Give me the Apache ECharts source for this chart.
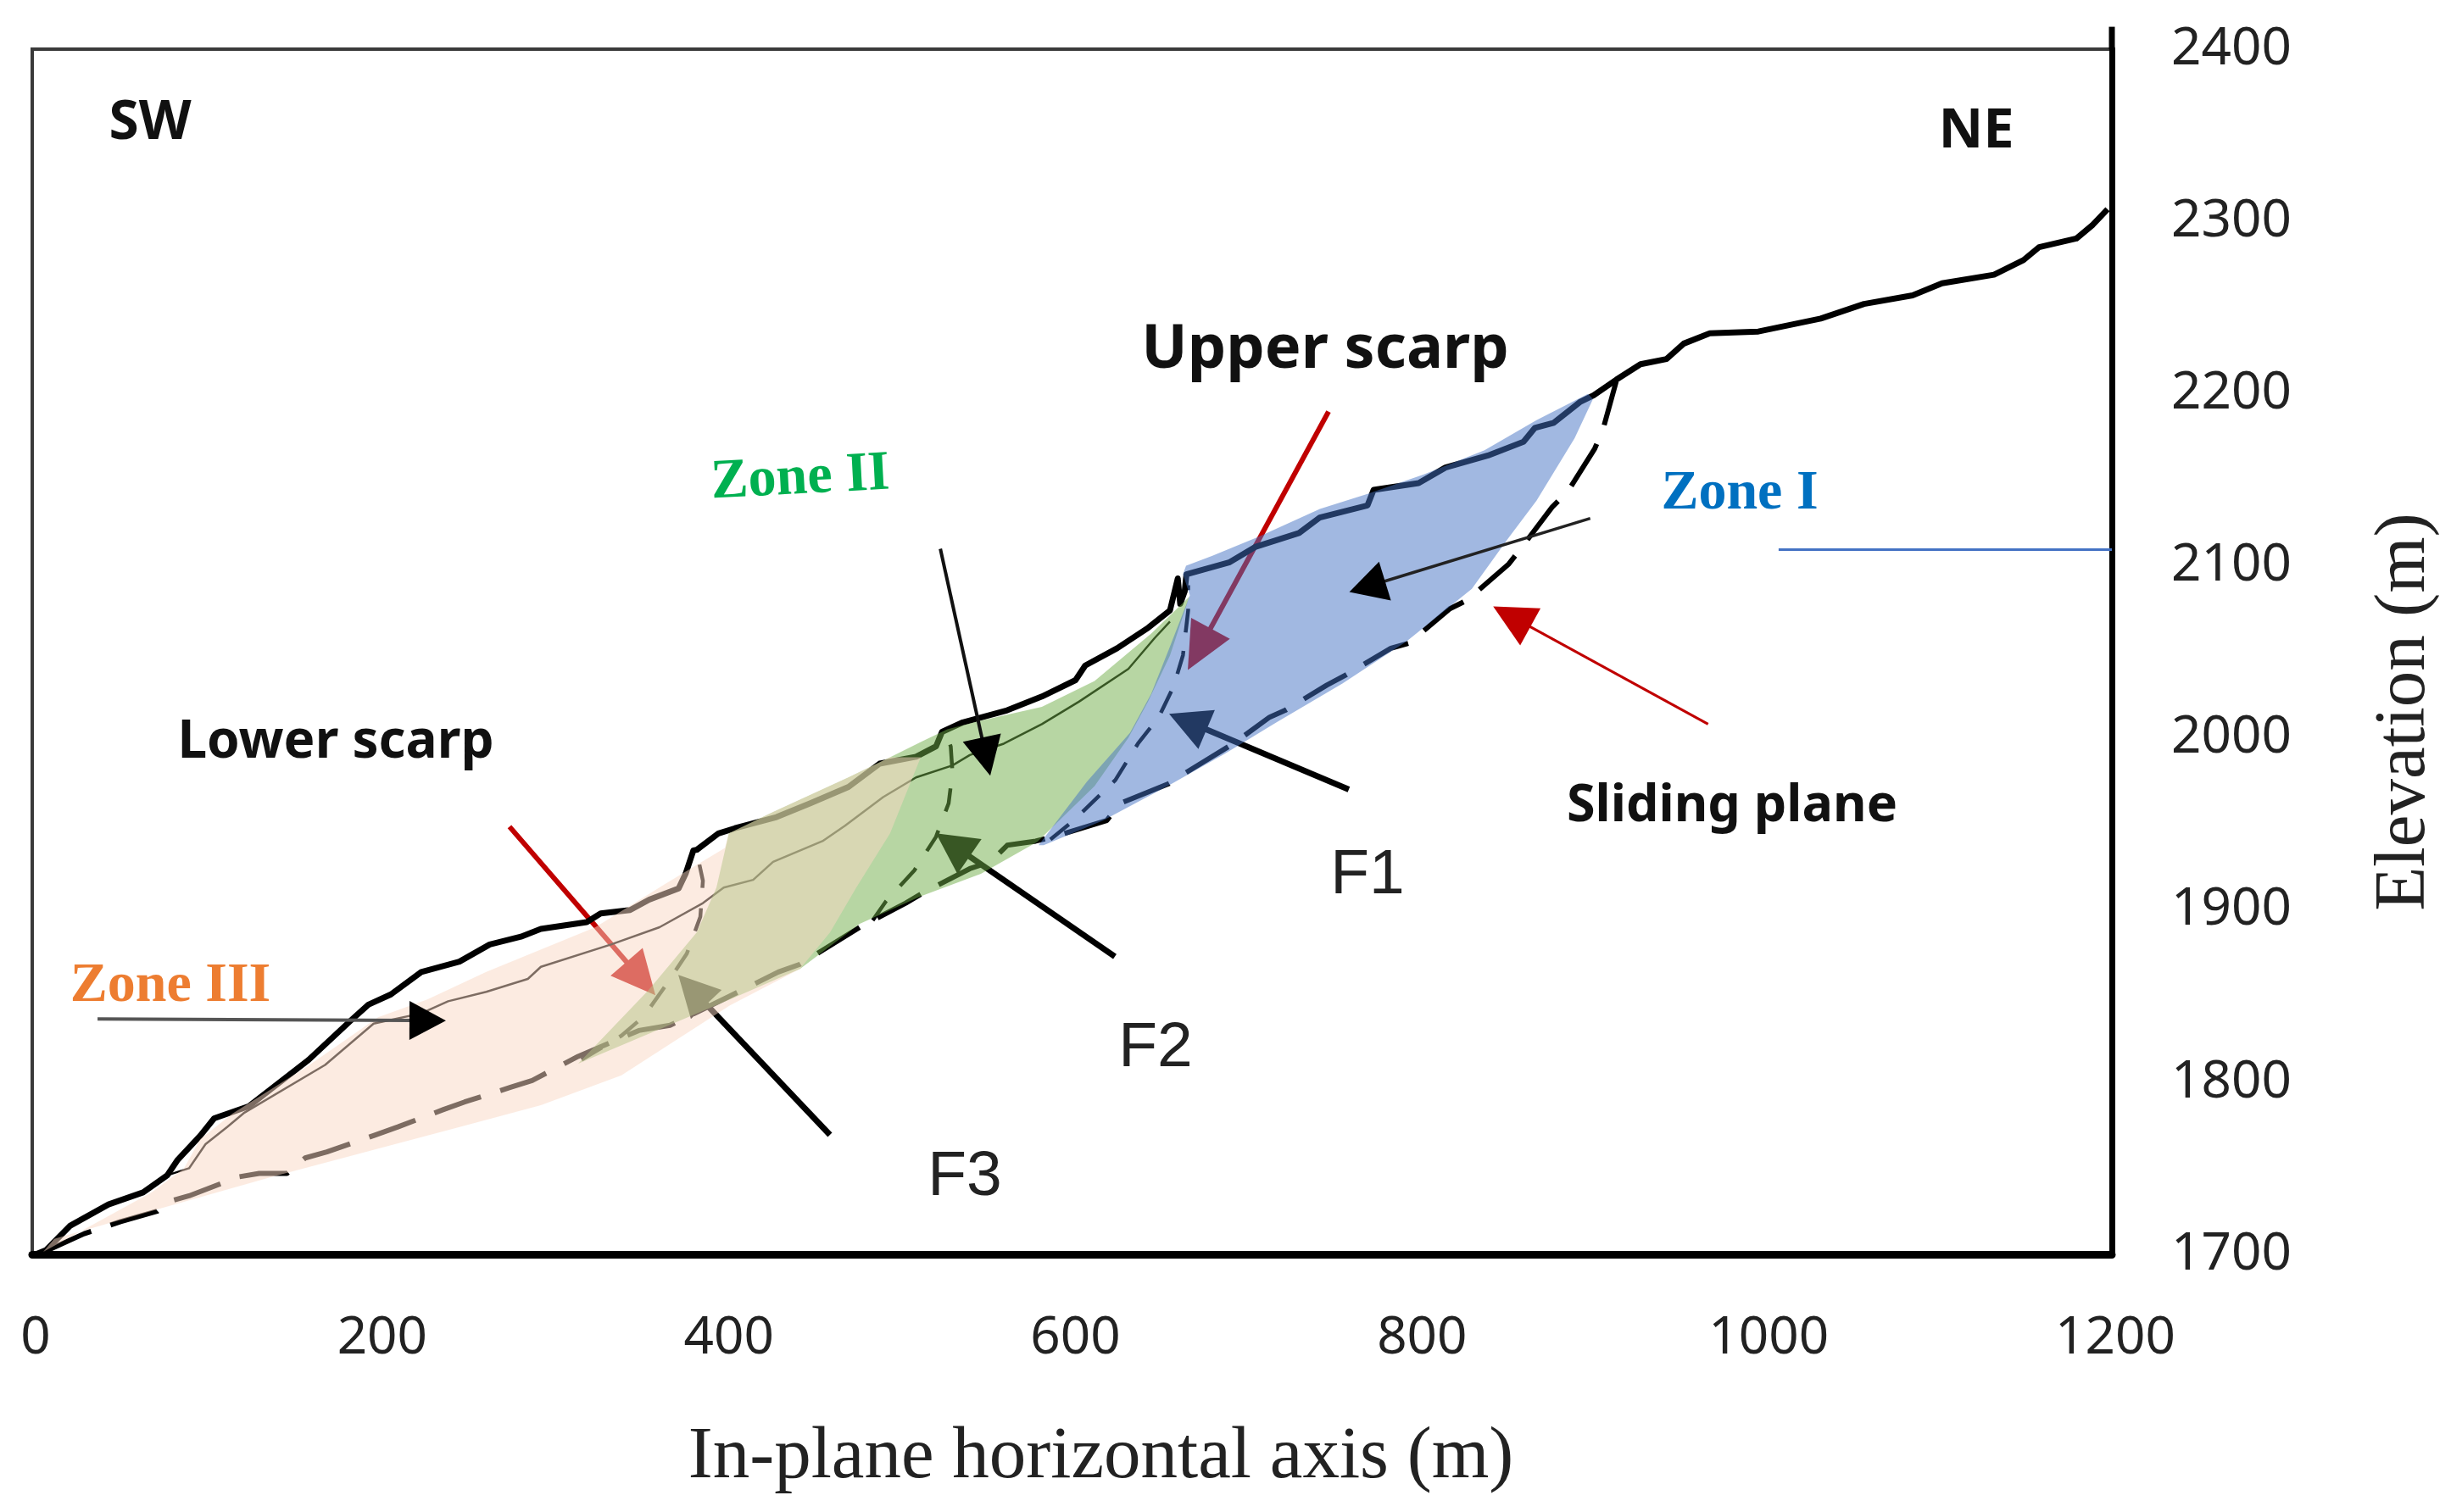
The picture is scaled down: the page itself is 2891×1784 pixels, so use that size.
<!DOCTYPE html>
<html><head><meta charset="utf-8">
<style>html,body{margin:0;padding:0;background:#fff}#c{width:2891px;height:1784px}</style>
<script src="https://cdn.jsdelivr.net/npm/echarts@6/dist/echarts.min.js"></script>
</head><body><div id="c"></div>
<script>
const xTicks = {min:0,max:1200,step:200};
const yTicks = {min:1700,max:2400,step:100};

const terrain = [[2,1700],[8,1702.5],[22,1716.7],[44,1729],[64,1736],[78,1746],[84,1755],[97,1769],[105,1779],[125,1786],[159.5,1813],[184,1836],[194,1845],[207,1851],[224.5,1864],[246.5,1870],[264,1880],[282,1884.5],[293.5,1889],[320,1893],[328,1898],[345,1900],[356,1906],[373,1912.5],[377,1921],[381.5,1934.6],[383.5,1935],[396,1944.5],[405.5,1947.5],[429.5,1954],[449,1962],[471,1971.5],[489,1985],[510,1989],[521.5,1995],[525,2003.5],[537,2009],[562.6,2016],[582.6,2024],[602,2033.5],[607.6,2042],[626,2052],[644,2064],[656.5,2074],[661,2092.6],[662.4,2077.8],[665,2085],[666,2095],[691,2102],[706,2111],[731,2119],[743,2128],[770.5,2135],[774,2144],[800,2148],[815.5,2157],[840,2164],[860.5,2172],[867,2180],[878,2183],[893,2195],[901,2199],[914,2208],[928,2217],[943,2220],[953,2229],[968,2235],[996,2236],[1032,2243.5],[1057,2252],[1085,2257],[1102,2264],[1132,2269],[1149,2277.5],[1158,2285],[1179.5,2290],[1189,2298],[1197.5,2307]];

const priorProfile = [[75,1745],[90.5,1750],[100,1764],[112.5,1774],[122,1782],[169,1810],[197,1834],[224.5,1840],[240,1847],[262,1852.5],[286,1860],[293.5,1867],[334,1880],[362,1890],[387,1904],[399,1913],[416,1917.5],[427.5,1928],[456,1940],[469,1949],[491,1965.6],[510,1977],[531,1984],[541,1990],[560.6,1996.6],[582.6,2008],[604,2021],[632.5,2040],[647.7,2058],[656.5,2067.5]];

const slidingPlane = [[8,1702],[30,1712],[51,1719],[72,1725],[78,1730.5],[90.5,1734],[119,1745],[131,1747],[147,1747],[157.5,1756],[170,1759.5],[197,1769],[211,1774],[237,1784],[249.5,1788.5],[276,1797],[288.5,1801],[315,1815],[350,1830],[368,1833],[402.6,1850],[430.5,1864],[443,1868.5],[477.5,1890],[504,1904],[515,1910.5],[541,1924],[553,1928],[562.6,1937.6],[579,1940],[591,1943],[620,1952],[628,1962],[656,1973.5],[666,1980],[693,1996.6],[714,2012],[723,2016],[747,2030.6],[758,2036.5],[784,2052],[794.5,2055],[818,2075],[828,2080],[852,2101],[859,2110],[877,2134],[886,2143],[901.6,2168],[906.5,2179.6],[914,2207]];

const failureF1 = [[587.5,1941],[601,1952],[625,1975.5],[638,1996.6],[650,2012],[658.5,2029.6],[664,2048],[667,2074],[667,2088.6]];
const failureF2 = [[485,1894],[492.6,1905],[509,1923],[521.5,1942.5],[528.8,1962],[531,1980],[530,1995],[527,2003.5]];
const failureF3 = [[317,1813],[340,1827],[352.7,1838],[365,1855.4],[377.7,1874.6],[385.5,1896],[387,1917],[384,1931]];

const zoneIOutline = [[580.7,1937.6],[608.6,1974.5],[633.5,2003],[645.7,2025.6],[656,2051.7],[668,2082.7],[664,2095],[665.8,2100],[681,2105.8],[708,2117],[743,2133],[770.5,2141.7],[803,2153],[838,2167],[868,2184.5],[897.7,2199.8],[900.6,2196.8],[890,2174],[868,2137.8],[851,2115],[830.7,2086.6],[793,2056],[756,2031.5],[718,2009],[688,1990.7],[656,1972.5],[618,1952],[583.6,1937.6]];
const zoneIIOutline = [[315,1810.7],[355.6,1853.5],[383.5,1887],[394.8,1913],[402,1944.5],[427.6,1957],[471,1977],[495,1988.7],[512.7,1997.6],[528,2005],[547.4,2010],[582.6,2018],[613,2033],[645.7,2060.6],[667.7,2082],[656.5,2047.8],[643.8,2021],[632.5,2000],[613,1972],[580,1939.6],[547.4,1921],[512.7,1908],[477.5,1892],[443,1865.8],[402.6,1848],[365,1832]];
const zoneIIIOutline = [[6.4,1701.5],[69,1736],[87.6,1750],[97,1767],[115.5,1781.7],[159.5,1809.7],[199.6,1837.7],[228,1848],[262,1864],[325,1890],[365,1915],[399.7,1936],[402,1944.5],[427.6,1957],[471,1977],[495,1988.7],[512.7,1988.7],[508,1977],[495,1944.5],[475.5,1913],[460.4,1887],[443,1865.8],[402.6,1844.6],[340,1804],[293.5,1786.6],[246.6,1774],[137.5,1744.8],[75,1727],[12.7,1709]];

const arrowZoneIII = [37.7,1836.7,238.7,1835.8];
const arrowLowerScarp = [275.4,1948.4,359.6,1850.5];
const arrowF3 = [460.3,1769.4,372.8,1862.3];
const arrowF2 = [624.7,1873,521.5,1944.5];
const arrowF1 = [759.7,1970,656,2014];
const arrowUpperScarp = [748,2189.5,666.8,2039.4];
const arrowZoneII = [524,2109.8,552.8,1978];
const arrowZoneI = [899,2127.5,760,2084.7];
const arrowSliding = [967,2008,843,2076.3];
const zoneILeader = [[1007.7,2109.3],[1200,2109.3]];
const spineExtension = [[1200,2400],[1200,2413]];

const lineSeries = (name,data,color,width,type,z) => ({
  name,type:'line',data,showSymbol:false,symbol:'none',clip:false,z,silent:true,
  lineStyle:{color,width,type:type||'solid',cap:'butt',join:'round'}
});
const polySeries = (name,pts,fill,z) => ({
  name,type:'custom',z,silent:true,clip:false,data:pts,
  encode:{x:0,y:1},
  renderItem:(p,api)=>{
    if(p.dataIndex!==0) return null;
    return {type:'polygon',shape:{points:pts.map(q=>api.coord(q)),smooth:0},style:{fill,stroke:null}};
  }
});
const arrowSeries = (name,a,lineColor,headColor,w,len,hw,z) => ({
  name,type:'custom',z,silent:true,clip:false,data:[a],
  encode:{x:[0,2],y:[1,3]},
  renderItem:(p,api)=>{
    const t=api.coord([api.value(0),api.value(1)]), h=api.coord([api.value(2),api.value(3)]);
    const dx=h[0]-t[0], dy=h[1]-t[1], L=Math.hypot(dx,dy), ux=dx/L, uy=dy/L;
    const bx=h[0]-ux*len, by=h[1]-uy*len;
    return {type:'group',children:[
      {type:'line',shape:{x1:t[0],y1:t[1],x2:bx+ux*2,y2:by+uy*2},style:{stroke:lineColor,lineWidth:w}},
      {type:'polygon',shape:{points:[h,[bx-uy*hw,by+ux*hw],[bx+uy*hw,by-ux*hw]]},style:{fill:headColor}}
    ]};
  }
});

const SANS='"Noto Sans"', SERIF='"Liberation Serif"';
const txt=(text,x,y,font,size,weight,color,rot)=>({
  type:'text',x,y:y+4,rotation:(rot||0)*Math.PI/180,z:20,
  style:{text,font:`${weight} ${size}px ${font}`,fill:color,align:'center',verticalAlign:'middle'}
});
const plain = v => String(v);

const option={
  animation:false,backgroundColor:'#fff',
  grid:{left:38,right:400,top:58,bottom:304,outerBoundsMode:'none',containLabel:false,show:true,borderColor:'#3a3a3a',borderWidth:4,backgroundColor:'transparent'},
  xAxis:{type:'value',min:xTicks.min,max:xTicks.max,interval:xTicks.step,
    axisLine:{show:true,lineStyle:{color:'#000',width:9}},axisTick:{show:false},splitLine:{show:false},
    axisLabel:{formatter:plain,color:'#222',fontFamily:SANS,fontSize:62,margin:68,padding:[0,0,0,8],showMinLabel:true,showMaxLabel:true},
    name:'In-plane horizontal axis (m)',nameLocation:'middle',nameGap:197,
    nameTextStyle:{fontFamily:SERIF,fontSize:87,color:'#222',padding:[0,0,0,68]}},
  yAxis:{type:'value',position:'right',min:yTicks.min,max:yTicks.max,interval:yTicks.step,
    axisLine:{show:true,onZero:false,lineStyle:{color:'#000',width:7}},axisTick:{show:false},splitLine:{show:false},
    axisLabel:{formatter:plain,color:'#222',fontFamily:SANS,fontSize:62,margin:70,padding:[13,0,0,0],showMinLabel:true,showMaxLabel:true},
    name:'Elevation (m)',nameLocation:'middle',nameGap:303,nameRotate:90,
    nameTextStyle:{fontFamily:SERIF,fontSize:85,color:'#222',padding:[0,142,0,0]}},
  series:[
    lineSeries('Spine',spineExtension,'#000',7,'solid',2),
    lineSeries('Terrain',terrain,'#000',7,'solid',2),
    lineSeries('Prior profile',priorProfile,'#000',2.5,'solid',2),
    lineSeries('Sliding plane',slidingPlane,'#000',6,[58,24],2),
    lineSeries('F1',failureF1,'#000',4.5,[28,22],2),
    lineSeries('F2',failureF2,'#000',4.5,[28,24],2),
    lineSeries('F3',failureF3,'#000',4.5,[28,24],2),
    arrowSeries('Lower scarp arrow',arrowLowerScarp,'#C00000','#C00000',6,52,25,2),
    arrowSeries('Upper scarp arrow',arrowUpperScarp,'#C00000','#C00000',6,56,26,2),
    arrowSeries('F1 arrow',arrowF1,'#000','#000',7,48,25,2),
    arrowSeries('F2 arrow',arrowF2,'#000','#000',7,48,25,2),
    arrowSeries('F3 arrow',arrowF3,'#000','#000',7,48,25,2),
    polySeries('Zone II',zoneIIOutline,'rgba(112,173,71,0.5)',3),
    polySeries('Zone III',zoneIIIOutline,'rgba(250,216,196,0.5)',4),
    polySeries('Zone I',zoneIOutline,'rgba(68,114,196,0.5)',5),
    arrowSeries('Zone I arrow',arrowZoneI,'#222','#000',3.5,44,24,6),
    arrowSeries('Zone II arrow',arrowZoneII,'#111','#000',4,46,23,6),
    arrowSeries('Zone III arrow',arrowZoneIII,'#555','#000',4,43,23,6),
    arrowSeries('Sliding plane arrow',arrowSliding,'#C00000','#C00000',3,50,25,6),
    lineSeries('Zone I leader',zoneILeader,'#4472C4',3,'solid',6)
  ],
  graphic:[
    txt('SW',177,142,SANS,64,'bold','#111'),
    txt('NE',2331,151,SANS,65,'bold','#111'),
    txt('Upper scarp',1563,409,SANS,72,'bold','#111'),
    txt('Lower scarp',396,872,SANS,62,'bold','#111'),
    txt('Sliding plane',2043,948,SANS,61,'bold','#111'),
    txt('F1',1613,1029,'"Liberation Sans"',75,'normal','#222'),
    txt('F2',1363,1233,'"Liberation Sans"',75,'normal','#222'),
    txt('F3',1138,1385,'"Liberation Sans"',75,'normal','#222'),
    txt('Zone I',2052,579,SERIF,66,'bold','#0070C0'),
    txt('Zone II',944,561,SERIF,66,'bold','#00B050',3),
    txt('Zone III',201,1160,SERIF,66,'bold','#ED7D31')
  ]
};
echarts.init(document.getElementById('c'),null,{renderer:'canvas',width:2891,height:1784}).setOption(option);
</script></body></html>
